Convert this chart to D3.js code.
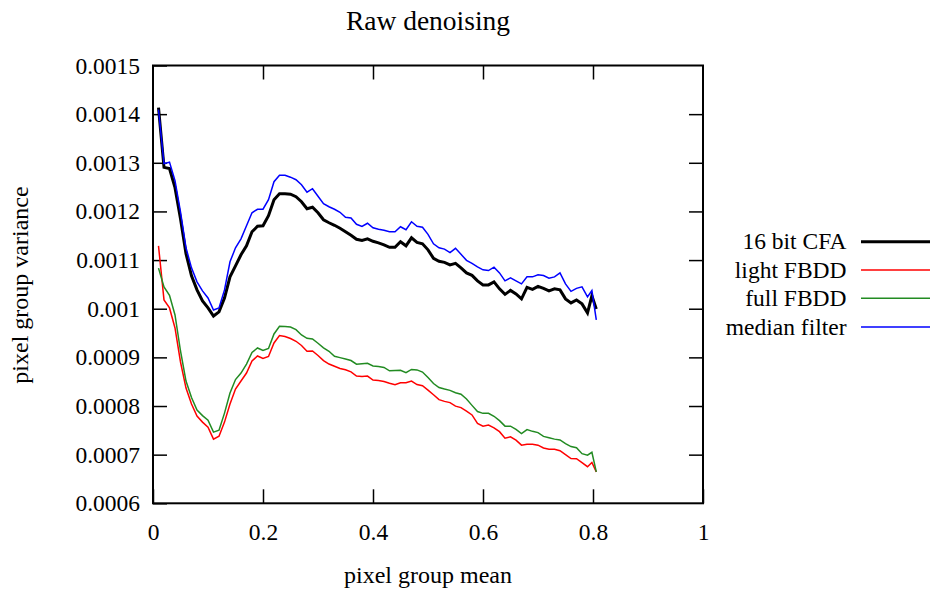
<!DOCTYPE html>
<html><head><meta charset="utf-8">
<script src="https://cdn.jsdelivr.net/npm/d3@7"></script>
<style>
html,body{margin:0;padding:0;background:#fff;}
svg text{font-family:"Liberation Serif","Times New Roman",serif;fill:#000;}
</style>
</head><body>
<svg id="chart" width="931" height="593"></svg>
<script>
const title = "Raw denoising";
const xLabel = "pixel group mean";
const yLabel = "pixel group variance";
const xTicks = [0, 0.2, 0.4, 0.6, 0.8, 1];
const yTicks = [0.0006, 0.0007, 0.0008, 0.0009, 0.001, 0.0011, 0.0012, 0.0013, 0.0014, 0.0015];
const seriesNames = ["16 bit CFA", "light FBDD", "full FBDD", "median filter"];
const seriesColors = ["#000000", "#ff0000", "#228b22", "#0000ff"];
const seriesWidths = [3, 1.5, 1.5, 1.5];

const xMean = [0.01,0.02,0.03,0.04,0.05,0.06,0.07,0.08,0.09,0.10,
  0.11,0.12,0.13,0.14,0.15,0.16,0.17,0.18,0.19,0.20,
  0.21,0.22,0.23,0.24,0.25,0.26,0.27,0.28,0.29,0.30,
  0.31,0.32,0.33,0.34,0.35,0.36,0.37,0.38,0.39,0.40,
  0.41,0.42,0.43,0.44,0.45,0.46,0.47,0.48,0.49,0.50,
  0.51,0.52,0.53,0.54,0.55,0.56,0.57,0.58,0.59,0.60,
  0.61,0.62,0.63,0.64,0.65,0.66,0.67,0.68,0.69,0.70,
  0.71,0.72,0.73,0.74,0.75,0.76,0.77,0.78,0.79,0.798,0.806];

const cfa16 = [0.0014135,0.0012906,0.0012880,0.0012488,0.0011849,0.0011129,0.0010676,0.0010387,0.0010160,0.0010016,
  0.0009850,0.0009935,0.0010222,0.0010655,0.0010882,0.0011108,0.0011293,0.0011582,0.0011695,0.0011705,
  0.0011911,0.0012241,0.0012364,0.0012364,0.0012354,0.0012302,0.0012199,0.0012055,0.0012086,0.0011973,
  0.0011829,0.0011767,0.0011715,0.0011654,0.0011582,0.0011509,0.0011427,0.0011402,0.0011437,0.0011386,
  0.0011355,0.0011314,0.0011262,0.0011262,0.0011376,0.0011293,0.0011458,0.0011365,0.0011334,0.0011211,
  0.0011036,0.0010974,0.0010953,0.0010902,0.0010933,0.0010840,0.0010737,0.0010686,0.0010573,0.0010490,
  0.0010490,0.0010552,0.0010408,0.0010295,0.0010377,0.0010305,0.0010202,0.0010439,0.0010398,0.0010459,
  0.0010418,0.0010367,0.0010408,0.0010387,0.0010202,0.0010120,0.0010181,0.0010099,0.0009914,0.0010264,0.0009996];

const lightFBDD = [0.0011293,0.0010181,0.0010016,0.0009605,0.0008905,0.0008369,0.0008040,0.0007793,0.0007669,0.0007566,
  0.0007319,0.0007380,0.0007669,0.0008040,0.0008349,0.0008514,0.0008678,0.0008925,0.0009028,0.0008977,
  0.0009018,0.0009296,0.0009450,0.0009430,0.0009388,0.0009331,0.0009244,0.0009125,0.0009131,0.0009038,
  0.0008935,0.0008863,0.0008816,0.0008771,0.0008744,0.0008703,0.0008616,0.0008606,0.0008616,0.0008534,
  0.0008524,0.0008503,0.0008468,0.0008437,0.0008478,0.0008478,0.0008513,0.0008441,0.0008418,0.0008328,
  0.0008231,0.0008132,0.0008095,0.0008070,0.0007998,0.0007967,0.0007895,0.0007816,0.0007644,0.0007586,
  0.0007607,0.0007551,0.0007473,0.0007339,0.0007366,0.0007298,0.0007195,0.0007216,0.0007216,0.0007195,
  0.0007138,0.0007113,0.0007109,0.0007082,0.0007000,0.0006921,0.0006917,0.0006835,0.0006752,0.0006839,0.0006645];

const fullFBDD = [0.0010834,0.0010449,0.0010274,0.0009872,0.0009131,0.0008513,0.0008174,0.0007916,0.0007803,0.0007710,
  0.0007463,0.0007504,0.0007854,0.0008266,0.0008544,0.0008678,0.0008863,0.0009100,0.0009193,0.0009141,
  0.0009183,0.0009481,0.0009640,0.0009636,0.0009625,0.0009570,0.0009460,0.0009392,0.0009378,0.0009291,
  0.0009197,0.0009125,0.0009022,0.0008995,0.0008968,0.0008935,0.0008859,0.0008867,0.0008877,0.0008824,
  0.0008811,0.0008793,0.0008723,0.0008729,0.0008735,0.0008684,0.0008752,0.0008742,0.0008698,0.0008585,
  0.0008462,0.0008379,0.0008348,0.0008322,0.0008272,0.0008241,0.0008143,0.0008013,0.0007886,0.0007849,
  0.0007849,0.0007789,0.0007699,0.0007586,0.0007586,0.0007518,0.0007432,0.0007516,0.0007479,0.0007453,
  0.0007376,0.0007349,0.0007319,0.0007302,0.0007226,0.0007166,0.0007143,0.0007020,0.0006989,0.0007048,0.0006645];

const medianFilter = [0.0014094,0.0012982,0.0013013,0.0012632,0.0011993,0.0011252,0.0010840,0.0010552,0.0010367,0.0010222,
  0.0009975,0.0010016,0.0010387,0.0010964,0.0011252,0.0011437,0.0011705,0.0011973,0.0012045,0.0012045,
  0.0012241,0.0012611,0.0012745,0.0012745,0.0012704,0.0012652,0.0012549,0.0012395,0.0012467,0.0012313,
  0.0012158,0.0012096,0.0012045,0.0011983,0.0011880,0.0011864,0.0011736,0.0011691,0.0011757,0.0011664,
  0.0011633,0.0011612,0.0011582,0.0011582,0.0011685,0.0011623,0.0011788,0.0011695,0.0011675,0.0011530,
  0.0011334,0.0011252,0.0011225,0.0011155,0.0011242,0.0011118,0.0010995,0.0010933,0.0010861,0.0010799,
  0.0010785,0.0010855,0.0010737,0.0010573,0.0010634,0.0010573,0.0010511,0.0010655,0.0010655,0.0010696,
  0.0010682,0.0010628,0.0010655,0.0010737,0.0010511,0.0010357,0.0010418,0.0010449,0.0010243,0.0010373,0.0009769];

const seriesValues = [cfa16, lightFBDD, fullFBDD, medianFilter];

const svg = d3.select("#chart");
const L = 153, R = 703, T = 65.5, B = 503.3;
const x = d3.scaleLinear().domain([0, 1]).range([L, R]);
const y = d3.scaleLinear().domain([0.0006, 0.0015]).range([B, T]);
const tickLen = 14;
const fs = 23.5;

// axes with inward ticks
const gB = svg.append("g").attr("transform", `translate(0,${B})`)
  .call(d3.axisBottom(x).tickValues(xTicks).tickSizeInner(-tickLen).tickSizeOuter(0).tickPadding(20).tickFormat(d3.format("")));
const gT = svg.append("g").attr("transform", `translate(0,${T})`)
  .call(d3.axisTop(x).tickValues(xTicks.filter(v => v > 0 && v < 1)).tickSizeInner(-tickLen).tickSizeOuter(0).tickFormat(""));
const gL = svg.append("g").attr("transform", `translate(${L},0)`)
  .call(d3.axisLeft(y).tickValues(yTicks).tickSizeInner(-tickLen).tickSizeOuter(0).tickPadding(13).tickFormat(d => String(+d.toPrecision(2))));
const gR = svg.append("g").attr("transform", `translate(${R},0)`)
  .call(d3.axisRight(y).tickValues(yTicks.filter(v => v > 0.0006 && v < 0.0015)).tickSizeInner(-tickLen).tickSizeOuter(0).tickFormat(""));
[gB, gT, gL, gR].forEach(g => {
  g.select(".domain").remove();
  g.selectAll(".tick line").attr("stroke", "#000").attr("stroke-width", 1.5);
  g.selectAll(".tick text").attr("font-size", fs).attr("font-family", "Liberation Serif, serif").attr("fill", "#000");
});
gB.selectAll(".tick text").attr("dy", "0.71em");

// series
const line = d3.line().x((d, i) => x(xMean[i])).y(d => y(d));
seriesValues.forEach((vals, si) => {
  svg.append("path").datum(vals)
    .attr("d", line)
    .attr("fill", "none")
    .attr("stroke", seriesColors[si])
    .attr("stroke-width", seriesWidths[si])
    .attr("stroke-linejoin", "miter");
});

// frame
svg.append("rect").attr("x", L).attr("y", T).attr("width", R - L).attr("height", B - T)
  .attr("fill", "none").attr("stroke", "#000").attr("stroke-width", 2);

// title and axis labels
svg.append("text").attr("x", 428).attr("y", 30).attr("text-anchor", "middle").attr("font-size", 27.5).text(title);
svg.append("text").attr("x", 428).attr("y", 583).attr("text-anchor", "middle").attr("font-size", 24).text(xLabel);
svg.append("text").attr("transform", "translate(28,285) rotate(-90)").attr("text-anchor", "middle").attr("font-size", 24).text(yLabel);

// legend
const legY = [241.7, 270, 298.3, 327];
seriesNames.forEach((name, i) => {
  svg.append("text").attr("x", 846.5).attr("y", legY[i]).attr("dy", "0.33em")
    .attr("text-anchor", "end").attr("font-size", fs).text(name);
  svg.append("line").attr("x1", 861).attr("x2", 930).attr("y1", legY[i]).attr("y2", legY[i])
    .attr("stroke", seriesColors[i]).attr("stroke-width", seriesWidths[i]);
});
</script>
</body></html>
